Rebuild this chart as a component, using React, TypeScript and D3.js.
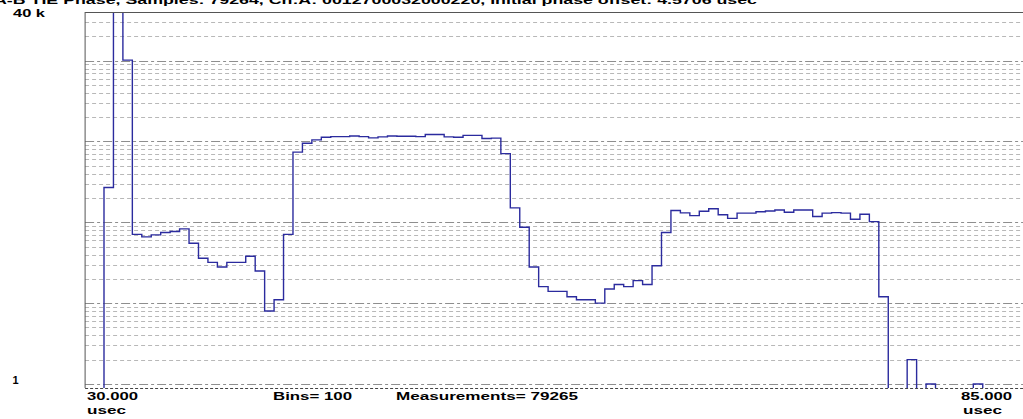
import React from "react";
import * as d3 from "d3";

// histogram counts, 100 bins from 30 to 85 usec
const counts = [
  0, 0, 270, 40000, 10150, 71, 66, 70, 75, 77,
  83, 55, 36, 32, 28, 32, 32, 38, 25, 8,
  11, 71, 738, 953, 1047, 1130, 1150, 1150, 1170, 1150,
  1110, 1140, 1170, 1160, 1160, 1150, 1220, 1220, 1140, 1130,
  1190, 1190, 1090, 1100, 708, 151, 87, 28, 16, 14,
  14, 12, 11, 11, 10, 15, 17, 16, 19, 17,
  29, 75, 140, 131, 121, 137, 147, 124, 112, 130,
  130, 135, 138, 142, 133, 142, 142, 118, 130, 132,
  130, 109, 126, 102, 12, 0, 0, 2, 0, 1,
  0, 0, 0, 0, 1, 0, 0, 0, 0, 0,
];
const xRange = [30, 85];
const yRange = [1, 40000];
const title =
  "A-B TIE Phase, Samples: 79264, Ch:A: 0012700032000220, Initial phase offset: 4.5706 usec";
const yTopLabel = "40 k";
const yBottomLabel = "1";
const xStartLabel = "30.000";
const xEndLabel = "85.000";
const unitLabel = "usec";
const binsLabel = "Bins= 100";
const measLabel = "Measurements= 79265";

const W = 1023;
const H = 419;
const left = 85.1;
const right = 1030;
const top = 12;
const yOne = 384;
const bottom = 388;

export default function App() {
  const x = d3.scaleLinear().domain(xRange).range([left, right]);
  const y = d3.scaleLog().domain(yRange).range([yOne, top]);
  const binW = (xRange[1] - xRange[0]) / counts.length;

  // grid values: 1..9 x 10^k, plus 2,3 x 10^4
  const grid: { v: number; major: boolean }[] = [];
  for (let k = 0; k <= 4; k++) {
    for (let m = 1; m <= 9; m++) {
      const v = m * Math.pow(10, k);
      if (v >= yRange[1]) break;
      grid.push({ v, major: m === 1 });
    }
  }

  // empty bins sit just under the axis line, hidden by the clip
  const zeroY = bottom + 3;
  const pts: [number, number][] = [[x(xRange[0]), zeroY]];
  counts.forEach((c, i) => {
    const yy = c > 0 ? y(c) : zeroY;
    pts.push([x(xRange[0] + i * binW), yy]);
    pts.push([x(xRange[0] + (i + 1) * binW), yy]);
  });
  const line = d3.line()(pts) as string;

  const font = {
    fontFamily: "'Liberation Sans', Arial, sans-serif",
    fontWeight: 700,
    fontSize: 11,
    fill: "#000",
  } as const;

  return (
    <svg
      width={W}
      height={H}
      style={{ position: "absolute", left: 0, top: 0, background: "#fff" }}
    >
      <text x={-6} y={4} textLength={763} lengthAdjust="spacingAndGlyphs" {...font}>
        {title}
      </text>
      <defs>
        <clipPath id="plot">
          <rect x={left} y={top} width={right - left} height={bottom - top} />
        </clipPath>
      </defs>
      {grid.map((g) => (
        <line
          key={g.v}
          x1={left}
          x2={W}
          y1={Math.round(y(g.v)) + 0.5}
          y2={Math.round(y(g.v)) + 0.5}
          stroke={g.major ? "#8e8e8e" : "#b8b8b8"}
          strokeDasharray={g.major ? "9,3,3,3" : "4,3"}
        />
      ))}
      <path
        d={line}
        fill="none"
        stroke="#2b2b9e"
        strokeWidth={1.4}
        clipPath="url(#plot)"
      />
      <line x1={left} x2={W} y1={top + 0.5} y2={top + 0.5} stroke="#555" />
      <line x1={left} x2={left} y1={top} y2={bottom} stroke="#555" />
      <line
        x1={left}
        x2={W}
        y1={bottom + 0.5}
        y2={bottom + 0.5}
        stroke="#444"
        strokeDasharray="3,2"
      />
      <text x={13} y={17} textLength={32} lengthAdjust="spacingAndGlyphs" {...font}>
        {yTopLabel}
      </text>
      <text x={12.5} y={384} {...font}>
        {yBottomLabel}
      </text>
      <text x={87} y={400} textLength={51} lengthAdjust="spacingAndGlyphs" {...font}>
        {xStartLabel}
      </text>
      <text x={87} y={414} textLength={39} lengthAdjust="spacingAndGlyphs" {...font}>
        {unitLabel}
      </text>
      <text x={273} y={400} textLength={79} lengthAdjust="spacingAndGlyphs" {...font}>
        {binsLabel}
      </text>
      <text x={396} y={400} textLength={182} lengthAdjust="spacingAndGlyphs" {...font}>
        {measLabel}
      </text>
      <text x={961} y={400} textLength={51} lengthAdjust="spacingAndGlyphs" {...font}>
        {xEndLabel}
      </text>
      <text x={963} y={414} textLength={39} lengthAdjust="spacingAndGlyphs" {...font}>
        {unitLabel}
      </text>
    </svg>
  );
}
